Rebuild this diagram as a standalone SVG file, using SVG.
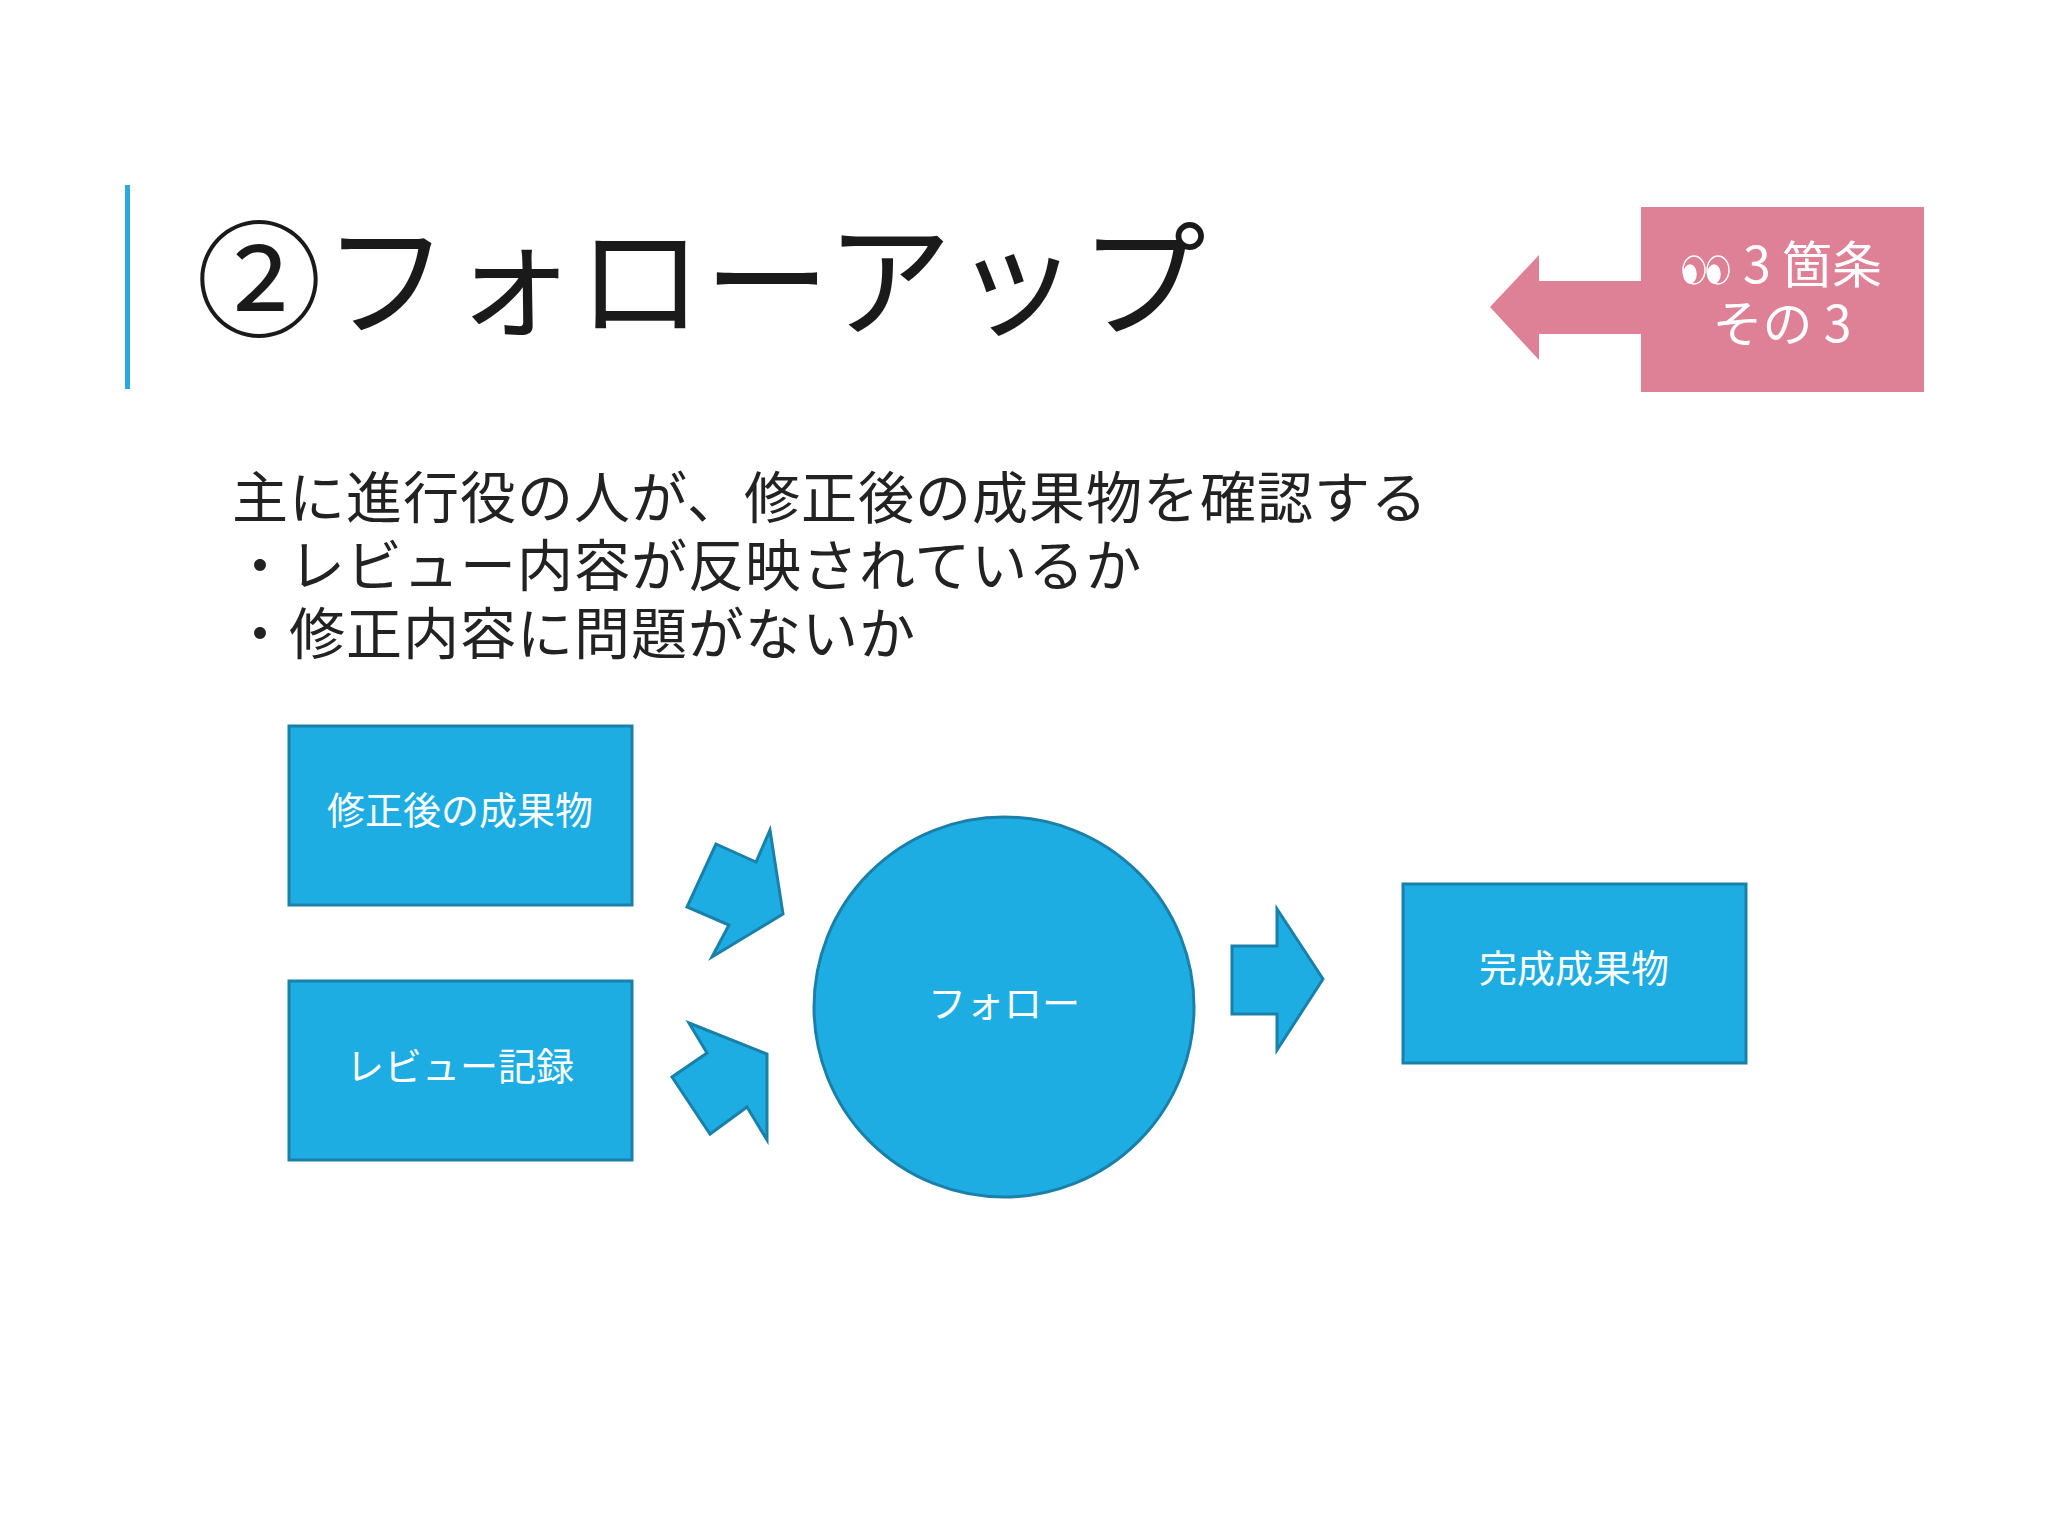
<svg xmlns="http://www.w3.org/2000/svg" width="2048" height="1536" viewBox="0 0 2048 1536">
<style>
.j{font-family:"Noto Sans CJK JP","Noto Sans",sans-serif}
.n{fill:#1EADE2;stroke:#1A80AA;stroke-width:3}
.w{fill:#fff;text-anchor:middle;font-size:38px}
.b{fill:#222;font-size:56px;letter-spacing:1px}
</style>
<rect width="2048" height="1536" fill="#fff"/>
<rect x="125" y="185" width="5" height="204" fill="#2CA8E0"/>
<text class="j" x="196" y="327" font-size="126" fill="#1a1a1a" letter-spacing="1">②フォローアップ</text>
<g id="badge">
<polygon points="1490,307 1539,255 1539,281 1642,281 1642,334 1539,334 1539,360" fill="#DE8096"/>
<rect x="1641" y="207" width="283" height="185" fill="#DE8096"/>
<g fill="#fff" stroke="#fff" stroke-width="1.5">
<ellipse cx="1694" cy="270" rx="11" ry="14" fill="#DE8096"/><ellipse cx="1690" cy="274" rx="6" ry="9"/>
<ellipse cx="1718" cy="270" rx="11" ry="14" fill="#DE8096"/><ellipse cx="1714" cy="274" rx="6" ry="9"/>
</g>
<text class="j" x="1743" y="283" font-size="50" fill="#fff">3 箇条</text>
<text class="j" x="1782" y="342" font-size="50" fill="#fff" text-anchor="middle">その 3</text>
</g>
<g class="j b">
<text x="232" y="518">主に進行役の人が、修正後の成果物を確認する</text>
<text x="232" y="586">・レビュー内容が反映されているか</text>
<text x="232" y="654">・修正内容に問題がないか</text>
</g>
<g id="n1"><rect class="n" x="289" y="726" width="343" height="179"/><text class="j w" x="460" y="824">修正後の成果物</text></g>
<g id="n2"><rect class="n" x="289" y="981" width="343" height="179"/><text class="j w" x="460" y="1080">レビュー記録</text></g>
<g id="n3"><circle class="n" cx="1004" cy="1007" r="190"/><text class="j w" x="1004" y="1017">フォロー</text></g>
<g id="n4"><rect class="n" x="1403" y="884" width="343" height="179"/><text class="j w" x="1574" y="982">完成成果物</text></g>
<g id="connectors">
<polygon class="n" points="716,844 756,862 770,830 783,914 712,957 729,925 687,907"/>
<polygon class="n" points="689,1023 767,1054 767,1140 747,1107 710,1134 672,1077 707,1053"/>
<polygon class="n" points="1232,946 1277,946 1277,909 1323,979 1277,1050 1277,1014 1232,1014"/>
</g>
</svg>
